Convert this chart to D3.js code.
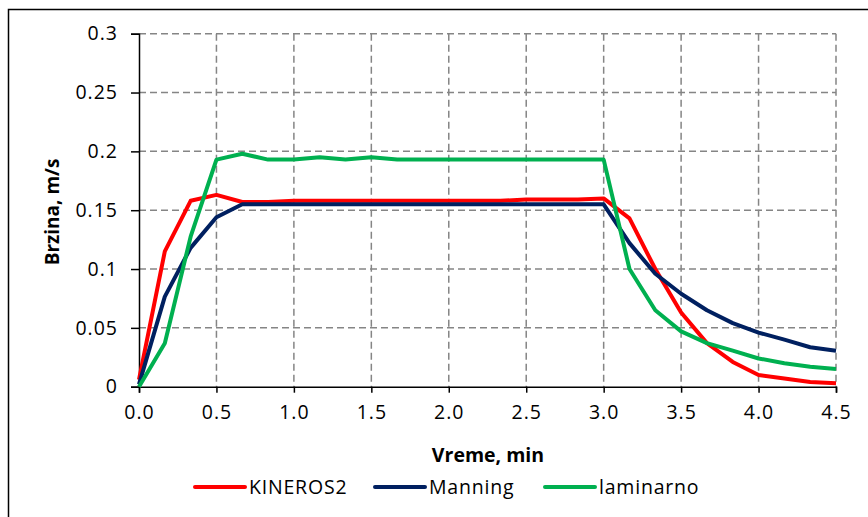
<!DOCTYPE html>
<html>
<head>
<meta charset="utf-8">
<script src="https://cdn.jsdelivr.net/npm/d3@7"></script>
<style>
  html, body { margin: 0; padding: 0; background: #fff; }
  svg { display: block; }
  text { font-family: "Open Sans", "Noto Sans", sans-serif; fill: #000; }
</style>
</head>
<body>
<svg id="chart" width="868" height="517"></svg>
<script>
// ---- data ----
const times = d3.range(28).map(i => i / 6); // minutes, 10 s step
const kineros2 = [0.006, 0.115, 0.158, 0.163, 0.157, 0.157, 0.158, 0.158, 0.158, 0.158,
                  0.158, 0.158, 0.158, 0.158, 0.158, 0.159, 0.159, 0.159, 0.160, 0.143,
                  0.100, 0.063, 0.037, 0.021, 0.010, 0.007, 0.004, 0.003];
const manning  = [0.002, 0.0765, 0.118, 0.144, 0.155, 0.155, 0.155, 0.155, 0.155, 0.155,
                  0.155, 0.155, 0.155, 0.155, 0.155, 0.155, 0.155, 0.155, 0.155, 0.122,
                  0.096, 0.079, 0.065, 0.054, 0.046, 0.040, 0.0335, 0.0306];
const laminarno = [0.000, 0.037, 0.1275, 0.193, 0.198, 0.193, 0.193, 0.195, 0.193, 0.195,
                   0.193, 0.193, 0.193, 0.193, 0.193, 0.193, 0.193, 0.193, 0.193, 0.100,
                   0.065, 0.047, 0.037, 0.0306, 0.024, 0.020, 0.017, 0.015];
const seriesNames = ["KINEROS2", "Manning", "laminarno"];
const seriesColors = ["#FF0000", "#002060", "#00B050"];
const xTicks = [0, 0.5, 1, 1.5, 2, 2.5, 3, 3.5, 4, 4.5];
const yTicks = [0, 0.05, 0.1, 0.15, 0.2, 0.25, 0.3];
const xTitle = "Vreme, min";
const yTitle = "Brzina, m/s";

// ---- layout ----
const svg = d3.select("#chart");
const L = 139, R = 836, T = 33.7, B = 386.7;

svg.append("rect").attr("x", 8.5).attr("y", 9.5).attr("width", 900).attr("height", 600)
  .attr("fill", "none").attr("stroke", "#000").attr("stroke-width", 1.5);

const x = d3.scaleLinear().domain([0, 4.5]).range([L, R]);
const y = d3.scaleLinear().domain([0, 0.3]).range([B, T]);

// grid
const grid = svg.append("g").attr("stroke", "#858585").attr("stroke-width", 1.5)
  .attr("stroke-dasharray", "7,4");
grid.selectAll("line.h").data(yTicks.filter(d => d > 0)).join("line")
  .attr("x1", L).attr("x2", R).attr("y1", d => y(d)).attr("y2", d => y(d));
grid.selectAll("line.v").data(xTicks.filter(d => d > 0)).join("line")
  .attr("y1", T).attr("y2", B).attr("x1", d => x(d)).attr("x2", d => x(d));

// axes
const fmtY = d => d === 0 ? "0" : String(+d.toFixed(2));
const yAxis = svg.append("g").attr("transform", `translate(${L},0)`)
  .call(d3.axisLeft(y).tickValues(yTicks).tickFormat(fmtY).tickSize(8).tickPadding(13));
const xAxis = svg.append("g").attr("transform", `translate(0,${B})`)
  .call(d3.axisBottom(x).tickValues(xTicks).tickFormat(d3.format(".1f")).tickSize(6).tickPadding(12));
[yAxis, xAxis].forEach(a => {
  a.select(".domain").attr("stroke", "#000").attr("stroke-width", 1.5);
  a.selectAll(".tick line").attr("stroke", "#000").attr("stroke-width", 1.5);
  a.selectAll(".tick text").attr("font-family", "Open Sans").attr("font-size", 19.5)
    .attr("letter-spacing", 1).attr("fill", "#000");
});

// lines
const allSeries = [kineros2, manning, laminarno];
const line = d3.line().x((d, i) => x(times[i])).y(d => y(d));
allSeries.forEach((s, k) => {
  svg.append("path").datum(s).attr("d", line).attr("fill", "none")
    .attr("stroke", seriesColors[k]).attr("stroke-width", 4).attr("stroke-linejoin", "round");
});

// titles
svg.append("text").attr("x", 488).attr("y", 462).attr("text-anchor", "middle")
  .attr("font-weight", "bold").attr("font-size", 19.5).text(xTitle);
svg.append("text").attr("transform", "translate(59,212) rotate(-90)")
  .attr("text-anchor", "middle").attr("font-weight", "bold").attr("font-size", 19).text(yTitle);

// legend
const legX = [195, 375, 545];
const lg = svg.append("g");
seriesNames.forEach((n, k) => {
  lg.append("line").attr("x1", legX[k]).attr("x2", legX[k] + 50).attr("y1", 487).attr("y2", 487)
    .attr("stroke", seriesColors[k]).attr("stroke-width", 4).attr("stroke-linecap", "round");
  lg.append("text").attr("x", legX[k] + 54).attr("y", 494).attr("font-size", 19.5)
    .attr("letter-spacing", 0.8).text(n);
});
</script>
</body>
</html>
